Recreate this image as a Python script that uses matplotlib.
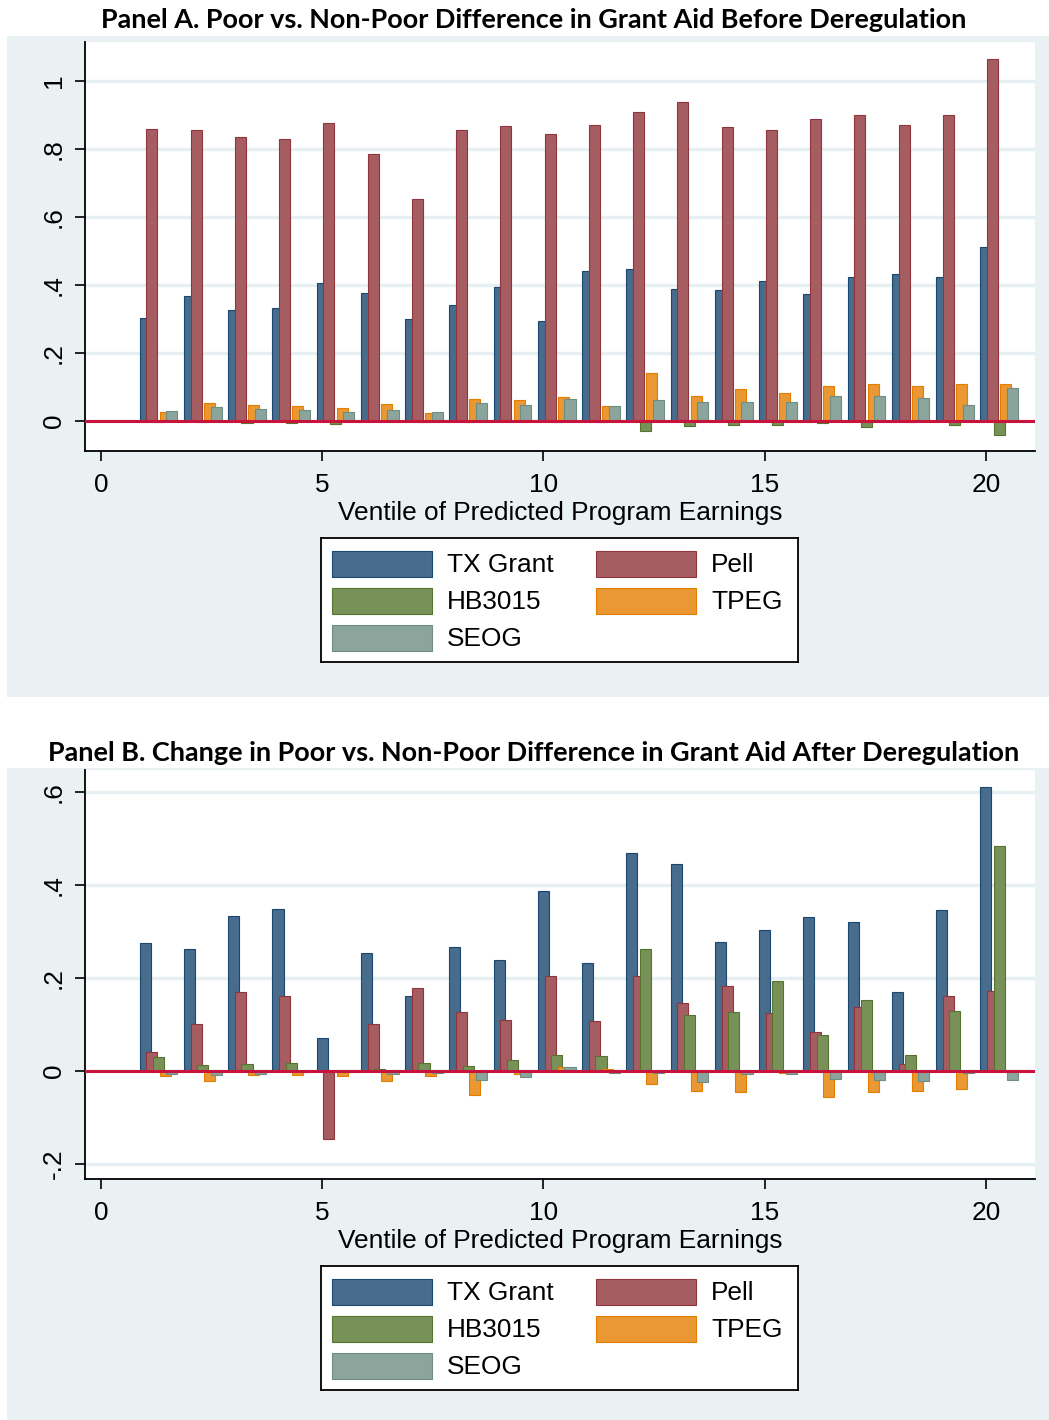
import matplotlib
matplotlib.use("Agg")
import matplotlib.pyplot as plt
from matplotlib.patches import Rectangle
import numpy as np

W, H, DPI = 1049, 1420, 100

# ---------------- data ----------------
ventiles = list(range(1, 21))
series_names = ["TX Grant", "Pell", "HB3015", "TPEG", "SEOG"]
x_ticks = [0, 5, 10, 15, 20]
x_label = "Ventile of Predicted Program Earnings"

title_a = "Panel A. Poor vs. Non-Poor Difference in Grant Aid Before Deregulation"
title_b = "Panel B. Change in Poor vs. Non-Poor Difference in Grant Aid After Deregulation"

yticks_a = [0, 0.2, 0.4, 0.6, 0.8, 1.0]
ylabels_a = ["0", ".2", ".4", ".6", ".8", "1"]
yticks_b = [-0.2, 0, 0.2, 0.4, 0.6]
ylabels_b = ["-.2", "0", ".2", ".4", ".6"]

tx_a = [0.302, 0.367, 0.325, 0.332, 0.405, 0.375, 0.301, 0.340, 0.393, 0.295,
        0.441, 0.446, 0.388, 0.385, 0.410, 0.372, 0.423, 0.432, 0.423, 0.511]
pell_a = [0.857, 0.855, 0.834, 0.829, 0.876, 0.786, 0.651, 0.855, 0.866, 0.843,
          0.869, 0.908, 0.937, 0.863, 0.855, 0.887, 0.899, 0.870, 0.899, 1.063]
hb_a = [-0.002, -0.003, -0.007, -0.007, -0.010, -0.001, -0.002, -0.002, -0.001, -0.003,
        -0.002, -0.028, -0.015, -0.012, -0.012, -0.005, -0.019, -0.002, -0.012, -0.042]
tpeg_a = [0.026, 0.054, 0.046, 0.043, 0.038, 0.049, 0.022, 0.064, 0.062, 0.070,
          0.045, 0.140, 0.074, 0.094, 0.082, 0.104, 0.108, 0.102, 0.108, 0.108]
seog_a = [0.029, 0.041, 0.035, 0.032, 0.026, 0.032, 0.026, 0.054, 0.048, 0.064,
          0.045, 0.062, 0.056, 0.056, 0.056, 0.074, 0.072, 0.069, 0.048, 0.097]

tx_b = [0.274, 0.263, 0.334, 0.349, 0.071, 0.254, 0.161, 0.266, 0.239, 0.388,
        0.232, 0.468, 0.446, 0.278, 0.303, 0.332, 0.321, 0.170, 0.345, 0.611]
pell_b = [0.041, 0.101, 0.170, 0.160, -0.147, 0.101, 0.178, 0.127, 0.109, 0.203,
          0.107, 0.205, 0.145, 0.183, 0.125, 0.083, 0.137, 0.014, 0.160, 0.172]
hb_b = [0.029, 0.012, 0.014, 0.017, 0.000, 0.004, 0.016, 0.010, 0.023, 0.034,
        0.032, 0.262, 0.121, 0.127, 0.194, 0.078, 0.153, 0.034, 0.129, 0.483]
tpeg_b = [-0.012, -0.022, -0.009, -0.009, -0.012, -0.022, -0.012, -0.052, -0.006, 0.009,
          0.004, -0.029, -0.043, -0.045, -0.005, -0.057, -0.045, -0.044, -0.039, 0.002]
seog_b = [-0.006, -0.009, -0.008, -0.002, -0.002, -0.008, -0.005, -0.020, -0.014, 0.007,
          -0.005, -0.005, -0.024, -0.008, -0.007, -0.018, -0.020, -0.022, -0.005, -0.020]

# ---------------- style ----------------
edge_colors = ["#1A476F", "#90353B", "#55752F", "#E37E00", "#6E8E84"]
fill_colors = ["#486C8C", "#A65D62", "#779159", "#E99833", "#8BA59D"]
BG = "#E9F1F3"
GRID = "#E6EFF1"
ZERO = "#C8143C"
FONT = ["Liberation Sans", "DejaVu Sans"]
FS = 18.9

fig = plt.figure(figsize=(W / DPI, H / DPI), dpi=DPI)
fig.patch.set_facecolor("white")


def px_rect(x0, y0, x1, y1):
    return [x0 / W, 1 - y1 / H, (x1 - x0) / W, (y1 - y0) / H]


def panel(dy, bg_top, bg_bot, title, title_base, title_width, series, ylim, yticks, ylabels):
    fig.add_artist(Rectangle((7 / W, 1 - bg_bot / H), (W - 7) / W, (bg_bot - bg_top) / H,
                             transform=fig.transFigure, facecolor=BG, edgecolor="none",
                             zorder=-10))
    ax = fig.add_axes(px_rect(85, 42 + dy, 1035, 451 + dy))
    ax.set_facecolor("white")
    x = np.array(ventiles, dtype=float)
    for k, vals in enumerate(series):
        ax.bar(x + 0.15 * k, vals, width=0.25, color=fill_colors[k],
               edgecolor=edge_colors[k], linewidth=0.8, zorder=2 + k)
    ax.axhline(0, color=ZERO, lw=2.2, zorder=10)
    ax.set_xlim(-0.362, 21.11)
    ax.set_ylim(*ylim)
    ax.set_xticks(x_ticks)
    ax.set_xticklabels([str(t) for t in x_ticks], fontfamily=FONT, fontsize=FS)
    ax.set_yticks(yticks)
    ax.set_yticklabels(ylabels, fontfamily=FONT, fontsize=FS, rotation=90, va="center")
    ax.yaxis.grid(True, color=GRID, lw=2.4)
    ax.set_axisbelow(True)
    for s in ["top", "right"]:
        ax.spines[s].set_visible(False)
    for s in ["left", "bottom"]:
        ax.spines[s].set_color("black")
        ax.spines[s].set_linewidth(1.3)
    ax.tick_params(axis="x", length=7, width=1.2, pad=9)
    ax.tick_params(axis="y", length=7, width=1.2, pad=7)
    fig.text(560 / W, 1 - (520 + dy) / H, x_label, ha="center", va="baseline",
             fontfamily=FONT, fontsize=FS)

    t = fig.text(534 / W, 1 - title_base / H, title, ha="center", va="baseline",
                 fontfamily=["Lato", "DejaVu Sans"], fontweight="bold", fontsize=20)
    fig.canvas.draw()
    bb = t.get_window_extent()
    t.set_fontsize(20 * title_width / bb.width)

    # legend
    lg = fig.add_axes(px_rect(321, 538 + dy, 798, 662 + dy))
    lg.set_xlim(321, 798)
    lg.set_ylim(662, 538)
    lg.set_xticks([])
    lg.set_yticks([])
    for s in lg.spines.values():
        s.set_color("black")
        s.set_linewidth(1.3)
    slots = [(332, 564), (596, 564), (332, 601), (596, 601), (332, 638)]
    for k, name in enumerate(series_names):
        sx, sy = slots[k]
        lg.add_patch(Rectangle((sx, sy - 13), 100, 26, facecolor=fill_colors[k],
                               edgecolor=edge_colors[k], linewidth=0.8))
        lg.text(sx + 115, sy + 1, name, ha="left", va="center",
                fontfamily=FONT, fontsize=FS)
    return ax


panel(0, 36, 697, title_a, 28, 868, [tx_a, pell_a, hb_a, tpeg_a, seog_a],
      (-0.0882, 1.1137), yticks_a, ylabels_a)
panel(728, 768, 1420, title_b, 761, 973, [tx_b, pell_b, hb_b, tpeg_b, seog_b],
      (-0.2331, 0.6475), yticks_b, ylabels_b)

fig.savefig("out.png", dpi=DPI)
